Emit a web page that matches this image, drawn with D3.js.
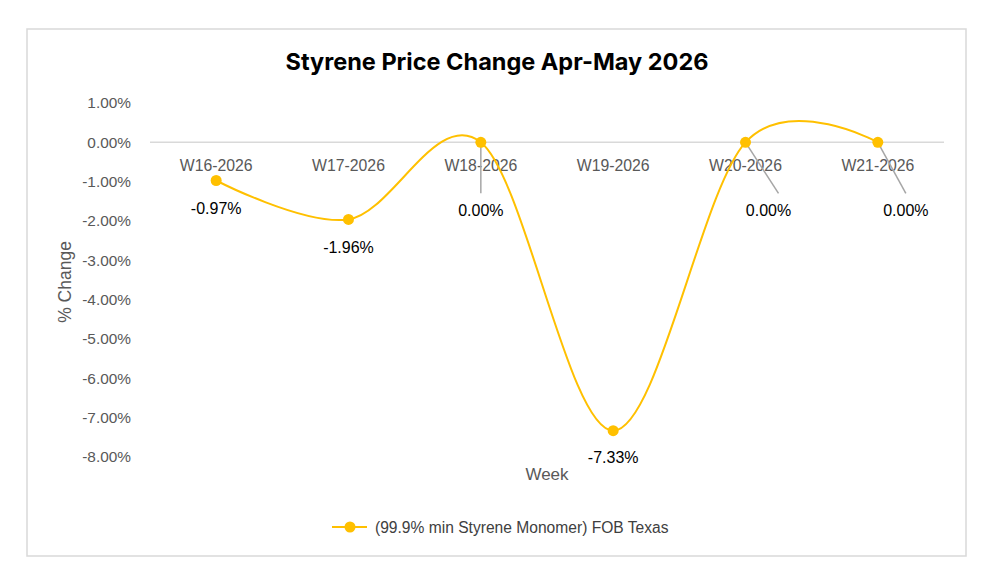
<!DOCTYPE html>
<html>
<head>
<meta charset="utf-8">
<script src="https://cdn.jsdelivr.net/npm/d3@7"></script>
<style>
  body { margin: 0; background: #fff; }
  svg text { font-family: "Liberation Sans", Arial, sans-serif; }
</style>
</head>
<body>
<div id="chart"></div>
<script>
const weeks = ['W16-2026', 'W17-2026', 'W18-2026', 'W19-2026', 'W20-2026', 'W21-2026'];
const changes = [-0.97, -1.96, 0.00, -7.33, 0.00, 0.00];
const yTicks = [1, 0, -1, -2, -3, -4, -5, -6, -7, -8];
const seriesName = '(99.9% min Styrene Monomer) FOB Texas';
const chartTitle = 'Styrene Price Change Apr-May 2026';

const width = 999, height = 584;
const plot = { left: 150, right: 944, top: 103, bottom: 457 };
const gold = '#FFC000';

const svg = d3.select('#chart').append('svg')
    .attr('width', width)
    .attr('height', height);

svg.append('rect')
    .attr('x', 27).attr('y', 29)
    .attr('width', 939).attr('height', 527)
    .attr('fill', '#fff')
    .attr('stroke', '#d9d9d9')
    .attr('stroke-width', 1.5);

svg.append('text')
    .attr('x', 497).attr('y', 70)
    .attr('text-anchor', 'middle')
    .style('font-family', 'Inter, Roboto, sans-serif')
    .attr('font-size', '23.5px')
    .attr('font-weight', 'bold')
    .attr('fill', '#000')
    .text(chartTitle);

const x = d3.scaleBand()
    .domain(weeks)
    .range([plot.left, plot.right]);

const y = d3.scaleLinear()
    .domain([-8, 1])
    .range([plot.bottom, plot.top]);

// y tick labels
const yAxis = svg.append('g')
    .attr('transform', `translate(${plot.left - 16},0)`)
    .call(d3.axisLeft(y).tickValues(yTicks).tickSize(0).tickFormat(d => d.toFixed(2) + '%'));
yAxis.select('.domain').remove();
yAxis.selectAll('text')
    .attr('font-size', '15.4px')
    .attr('fill', '#595959')
    .style('font-family', '"Liberation Sans", Arial, sans-serif');

// zero line
svg.append('line')
    .attr('x1', plot.left).attr('x2', plot.right)
    .attr('y1', y(0)).attr('y2', y(0))
    .attr('stroke', '#d9d9d9')
    .attr('stroke-width', 1.5);

// category labels sit just below zero line
const xAxis = svg.append('g')
    .attr('transform', `translate(0,${y(0)})`)
    .call(d3.axisBottom(x).tickSize(0).tickPadding(17));
xAxis.select('.domain').remove();
xAxis.selectAll('text')
    .attr('font-size', '15.8px')
    .attr('fill', '#595959')
    .style('font-family', '"Liberation Sans", Arial, sans-serif');

// axis titles
svg.append('text')
    .attr('transform', `translate(71,${(y(-2) + y(-5)) / 2 + 2}) rotate(-90)`)
    .attr('text-anchor', 'middle')
    .attr('font-size', '17.5px')
    .attr('fill', '#595959')
    .text('% Change');

svg.append('text')
    .attr('x', (plot.left + plot.right) / 2)
    .attr('y', 480)
    .attr('text-anchor', 'middle')
    .attr('font-size', '17px')
    .attr('fill', '#595959')
    .text('Week');

const points = weeks.map((w, i) => ({ week: w, value: changes[i], cx: x(w) + x.bandwidth() / 2, cy: y(changes[i]) }));

const line = d3.line()
    .x(d => d.cx)
    .y(d => d.cy)
    .curve(d3.curveCardinal.tension(0));

svg.append('path')
    .datum(points)
    .attr('d', line)
    .attr('fill', 'none')
    .attr('stroke', gold)
    .attr('stroke-width', 2);

// leader lines for labels that were pulled away
const leaders = [
    { i: 2, dx: 0, dy: 51 },
    { i: 4, dx: 33, dy: 51 },
    { i: 5, dx: 28, dy: 51 }
];
leaders.forEach(l => {
    const p = points[l.i];
    svg.append('line')
        .attr('x1', p.cx).attr('y1', p.cy)
        .attr('x2', p.cx + l.dx).attr('y2', p.cy + l.dy)
        .attr('stroke', '#a6a6a6')
        .attr('stroke-width', 1.5);
});

svg.selectAll('.dot')
    .data(points)
    .enter().append('circle')
    .attr('class', 'dot')
    .attr('cx', d => d.cx)
    .attr('cy', d => d.cy)
    .attr('r', 5.5)
    .attr('fill', gold);

// data labels
const labelOffsets = [
    { dx: 0, dy: 34 },
    { dx: 0, dy: 34 },
    { dx: 0, dy: 74 },
    { dx: 0, dy: 32 },
    { dx: 23, dy: 74 },
    { dx: 28, dy: 74 }
];
svg.selectAll('.dlabel')
    .data(points)
    .enter().append('text')
    .attr('class', 'dlabel')
    .attr('x', (d, i) => d.cx + labelOffsets[i].dx)
    .attr('y', (d, i) => d.cy + labelOffsets[i].dy)
    .attr('text-anchor', 'middle')
    .attr('font-size', '16px')
    .attr('fill', '#000')
    .text(d => d.value.toFixed(2) + '%');

// legend
const legend = svg.append('g').attr('transform', 'translate(332,527)');
legend.append('line')
    .attr('x1', 0).attr('x2', 35)
    .attr('stroke', gold)
    .attr('stroke-width', 2);
legend.append('circle')
    .attr('cx', 18).attr('r', 5.5)
    .attr('fill', gold);
legend.append('text')
    .attr('x', 43).attr('y', 5.5)
    .attr('font-size', '15.6px')
    .attr('fill', '#404040')
    .text(seriesName);
</script>
</body>
</html>
